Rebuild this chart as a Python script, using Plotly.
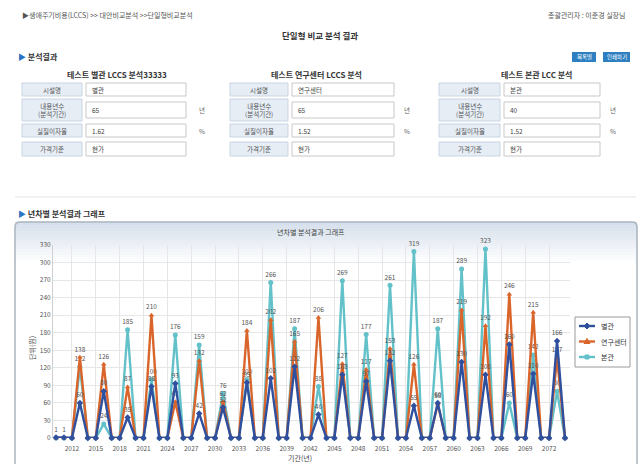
import plotly.graph_objects as go

# ---------------- data ----------------
years = [2010, 2011, 2012, 2013, 2014, 2015, 2016, 2017, 2018, 2019, 2020, 2021, 2022,
         2023, 2024, 2025, 2026, 2027, 2028, 2029, 2030, 2031, 2032, 2033, 2034, 2035,
         2036, 2037, 2038, 2039, 2040, 2041, 2042, 2043, 2044, 2045, 2046, 2047, 2048,
         2049, 2050, 2051, 2052, 2053, 2054, 2055, 2056, 2057, 2058, 2059, 2060, 2061,
         2062, 2063, 2064, 2065, 2066, 2067, 2068, 2069, 2070, 2071, 2072, 2073, 2074]

annex = [1, 1, 0, 60, 0, 0, 80, 0, 0, 35, 0, 0, 88, 0, 0, 93, 0, 0, 42, 0, 0, 52, 0, 0,
         95, 0, 0, 102, 0, 0, 122, 0, 0, 40, 0, 0, 108, 0, 0, 97, 0, 0, 132, 0, 0, 55,
         0, 0, 60, 0, 0, 130, 0, 0, 108, 0, 0, 160, 0, 0, 110, 0, 0, 166, 0]
research = [0, 0, 0, 138, 0, 0, 126, 0, 0, 87, 0, 0, 210, 0, 0, 62, 0, 0, 132, 0, 0, 62,
            0, 0, 184, 0, 0, 202, 0, 0, 165, 0, 0, 206, 0, 0, 127, 0, 0, 117, 0, 0, 153,
            0, 0, 126, 0, 0, 58, 0, 0, 219, 0, 0, 192, 0, 0, 246, 0, 0, 215, 0, 0, 137, 0]
main_bldg = [0, 0, 0, 122, 0, 0, 24, 0, 0, 185, 0, 0, 100, 0, 0, 176, 0, 0, 159, 0, 0, 76,
             0, 0, 100, 0, 0, 266, 0, 0, 187, 0, 0, 88, 0, 0, 269, 0, 0, 177, 0, 0, 261,
             0, 0, 319, 0, 0, 187, 0, 0, 289, 0, 0, 323, 0, 0, 60, 0, 0, 142, 0, 0, 80, 0]

series_names = ["별관", "연구센터", "본관"]
x_ticks = [2012, 2015, 2018, 2021, 2024, 2027, 2030, 2033, 2036, 2039, 2042, 2045,
           2048, 2051, 2054, 2057, 2060, 2063, 2066, 2069, 2072]
y_ticks = [0, 30, 60, 90, 120, 150, 180, 210, 240, 270, 300, 330]

groups = [
    {"title": "테스트 별관 LCCS 분석33333", "name": "별관", "years": "65", "rate": "1.62", "basis": "현가"},
    {"title": "테스트 연구센터 LCCS 분석", "name": "연구센터", "years": "65", "rate": "1.52", "basis": "현가"},
    {"title": "테스트 본관 LCC 분석", "name": "본관", "years": "40", "rate": "1.52", "basis": "현가"},
]

# ---------------- helpers ----------------
W, H = 640, 464
FONT = "Noto Sans CJK KR, Noto Sans, sans-serif"


def X(px):
    return px / W


def Y(py):
    return 1 - py / H


shapes = []
annotations = []


def rect(x0, y0, x1, y1, fill, line=None, lw=1, layer="below"):
    shapes.append(dict(type="rect", xref="paper", yref="paper",
                       x0=X(x0), x1=X(x1), y0=Y(y1), y1=Y(y0),
                       fillcolor=fill, line=dict(color=line or fill, width=lw if line else 0),
                       layer=layer))


def text(px, py, s, size=8, color="#444", anchor="center", bold=False):
    if bold:
        s = "<b>" + s + "</b>"
    annotations.append(dict(xref="paper", yref="paper", x=X(px), y=Y(py), text=s,
                            showarrow=False, xanchor=anchor, yanchor="middle",
                            font=dict(size=size, color=color, family=FONT)))


# ---------------- page header ----------------
text(20, 15, "▶생애주기비용(LCCS) >> 대안비교분석 >>단일형비교분석", 7, "#555", "left")
text(628, 15, "총괄관리자 : 이준경 실장님", 7, "#555", "right")
text(320, 35, "단일형 비교 분석 결과", 8.5, "#333", "center", True)
text(16, 57, "<span style='color:#2b74c4'>▶</span> <b>분석결과</b>", 8, "#333", "left")

# buttons
rect(572, 52, 596, 62, "#2e7fc1")
rect(603, 52, 630, 62, "#2e7fc1")
text(584, 57, "목록별", 5.5, "white", "center")
text(616.5, 57, "인쇄하기", 5.5, "white", "center")

# ---------------- tables ----------------
layouts = [
    dict(title_x=117, lx0=22, lx1=82, ix0=86, ix1=186, ux=197),
    dict(title_x=316, lx0=230, lx1=288, ix0=292, ix1=394, ux=402),
    dict(title_x=536, lx0=439, lx1=500, ix0=504, ix1=600, ux=608),
]
rows = [(83, 96), (99, 121), (124, 137), (142, 156)]
row_labels = ["시설명", "내용년수<br>(분석기간)", "실질이자율", "가격기준"]
for g, L in zip(groups, layouts):
    text(L["title_x"], 74, g["title"], 8, "#333", "center", True)
    vals = [g["name"], g["years"], g["rate"], g["basis"]]
    units = ["", "년", "%", ""]
    for (r0, r1), lab, v, u in zip(rows, row_labels, vals, units):
        rect(L["lx0"], r0, L["lx1"], r1, "#e6edf5", "#c9d5e2")
        text((L["lx0"] + L["lx1"]) / 2, (r0 + r1) / 2, lab, 6.5, "#555")
        ib0, ib1 = (r0, r1) if r1 - r0 < 16 else (r0 + 3, r1 - 3)
        rect(L["ix0"], ib0, L["ix1"], ib1, "white", "#c8c8c8")
        text(L["ix0"] + 4, (r0 + r1) / 2, v, 6.5, "#444", "left")
        if u:
            text(L["ux"], (r0 + r1) / 2, u, 6.5, "#666", "left")

# faint divider under tables
shapes.append(dict(type="line", xref="paper", yref="paper", x0=X(15), x1=X(636),
                   y0=Y(197), y1=Y(197), line=dict(color="#e3e3e3", width=1)))

text(16, 213, "<span style='color:#2b74c4'>▶</span> <b>년차별 분석결과 그래프</b>", 8, "#333", "left")

# ---------------- chart panel ----------------
px0, py0, px1, py1 = 15, 222, 637, 470
steps = 14
for i in range(steps):
    t = i / (steps - 1)
    r = int(214 + (255 - 214) * t)
    gcol = int(224 + (255 - 224) * t)
    b = int(236 + (255 - 236) * t)
    y_a = py0 + i * 3.0
    rect(px0, y_a, px1, y_a + 3.2, f"rgb({r},{gcol},{b})")
rect(px0, py0 + steps * 3.0, px1, py1, "white")
rr = 5
path = (f"M {X(px0 + rr)} {Y(py0)} L {X(px1 - rr)} {Y(py0)} "
        f"Q {X(px1)} {Y(py0)} {X(px1)} {Y(py0 + rr)} L {X(px1)} {Y(py1)} "
        f"L {X(px0)} {Y(py1)} L {X(px0)} {Y(py0 + rr)} Q {X(px0)} {Y(py0)} {X(px0 + rr)} {Y(py0)} Z")
shapes.append(dict(type="path", xref="paper", yref="paper", path=path,
                   line=dict(color="#a9b4bf", width=1.5), fillcolor="rgba(0,0,0,0)", layer="below"))

text(311, 232, "년차별 분석결과 그래프", 7, "#444", "center")
text(300, 458, "기간(년)", 7, "#444", "center")
annotations.append(dict(xref="paper", yref="paper", x=X(25), y=Y(362), text="단위(원)",
                        textangle=-90, showarrow=False,
                        font=dict(size=7, color="#444", family=FONT)))

# ---------------- traces ----------------
colors = {"별관": "#2f4f9f", "연구센터": "#d9652b", "본관": "#63c1c9"}
symbols = {"별관": "diamond", "연구센터": "triangle-up", "본관": "circle"}
data_map = {"별관": annex, "연구센터": research, "본관": main_bldg}

fig = go.Figure()
for name in ["본관", "연구센터", "별관"]:
    vals = data_map[name]
    labels = [str(v) if v > 0 else "" for v in vals]
    fig.add_trace(go.Scatter(
        x=years, y=vals, name=name, mode="lines+markers+text",
        line=dict(color=colors[name], width=2.4),
        marker=dict(symbol=symbols[name], size=5, color=colors[name]),
        text=labels, textposition="top center",
        textfont=dict(size=6.5, color="#555", family=FONT),
        cliponaxis=False, showlegend=False,
    ))

# ---------------- manual legend ----------------
lx0, ly0, lx1, ly1 = 575, 317, 630, 367
rect(lx0, ly0, lx1, ly1, "white", "#9a9a9a")
for i, name in enumerate(series_names):
    yy = 326 + i * 15.5
    shapes.append(dict(type="line", xref="paper", yref="paper", x0=X(579), x1=X(595),
                       y0=Y(yy), y1=Y(yy), line=dict(color=colors[name], width=2.4)))
    cx, cy = 587, yy
    if symbols[name] == "diamond":
        p = (f"M {X(cx)} {Y(cy-3)} L {X(cx+3)} {Y(cy)} L {X(cx)} {Y(cy+3)} "
             f"L {X(cx-3)} {Y(cy)} Z")
    elif symbols[name] == "triangle-up":
        p = f"M {X(cx)} {Y(cy-3)} L {X(cx+3)} {Y(cy+2)} L {X(cx-3)} {Y(cy+2)} Z"
    else:
        p = (f"M {X(cx-2)} {Y(cy-2)} L {X(cx+2)} {Y(cy-2)} L {X(cx+2)} {Y(cy+2)} "
             f"L {X(cx-2)} {Y(cy+2)} Z")
    shapes.append(dict(type="path", xref="paper", yref="paper", path=p,
                       fillcolor=colors[name], line=dict(color=colors[name], width=1)))
    text(599, yy, name, 7, "#333", "left")

fig.update_layout(
    width=W, height=H, margin=dict(l=0, r=0, t=0, b=0),
    paper_bgcolor="white", plot_bgcolor="white",
    font=dict(family=FONT),
    shapes=shapes, annotations=annotations,
    showlegend=False,
    xaxis=dict(domain=[X(53), X(570)], range=[2009.62, 2074.63], tickvals=x_ticks,
               showgrid=True, gridcolor="#e6e6e6", zeroline=False, automargin=False,
               tickfont=dict(size=6.5, color="#555"), ticks="", showline=False,
               ticklabelstandoff=5),
    yaxis=dict(domain=[Y(438), Y(245)], range=[0, 330], tickvals=y_ticks,
               showgrid=True, gridcolor="#e6e6e6", zeroline=False, automargin=False,
               tickfont=dict(size=6.5, color="#555"), ticks="", showline=True,
               linecolor="#cfcfcf"),
)

fig.write_html("out.html", config={"displayModeBar": False},
               post_script="document.body.style.margin='0';")
